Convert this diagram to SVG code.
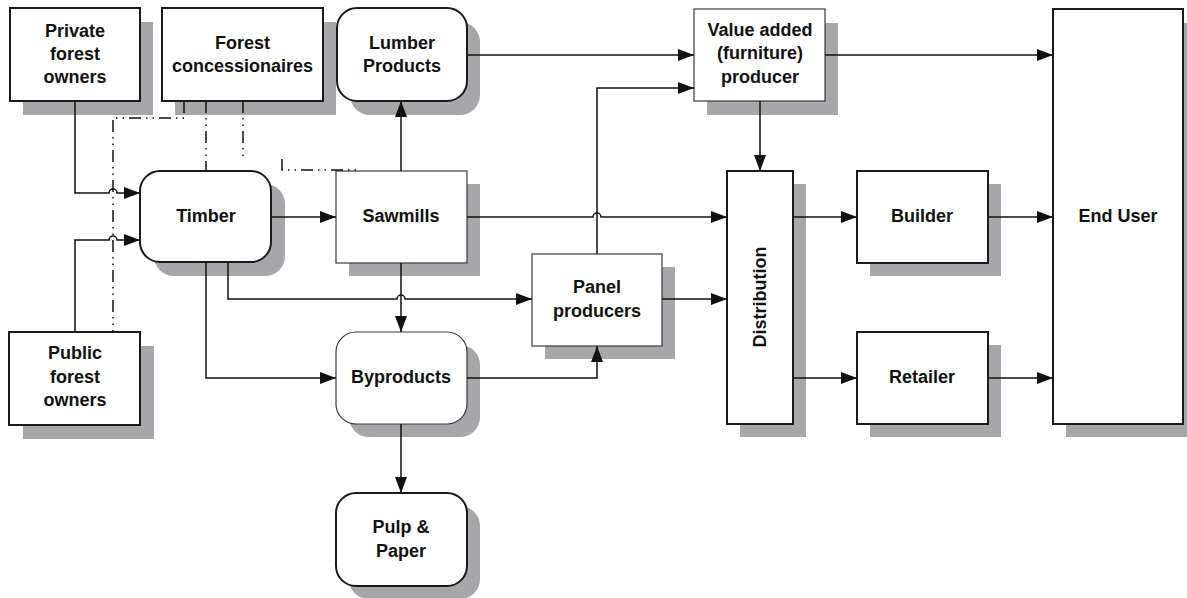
<svg xmlns="http://www.w3.org/2000/svg" width="1187" height="598" viewBox="0 0 1187 598">
<style>
.sh{fill:#a7a7aa}
.bx{fill:#fff;stroke:#1a1a1a;stroke-width:2}
.tn{fill:#fff;stroke:#3a3a3a;stroke-width:1.2}
.t{font-family:"Liberation Sans",Arial,sans-serif;font-weight:bold;font-size:18px;fill:#111;text-anchor:middle}
.c{fill:none;stroke:#111;stroke-width:1.5}
.d{fill:none;stroke:#111;stroke-width:1.5;stroke-dasharray:12 5 1.5 5 1.5 5}
</style>
<defs>
<marker id="ah" markerUnits="userSpaceOnUse" markerWidth="16" markerHeight="12" viewBox="0 0 16 12" refX="16" refY="6" orient="auto">
<path d="M0,0 L16,6 L0,12 Z" fill="#111"/>
</marker>
</defs>
<rect width="1187" height="598" fill="#fff"/>
<g id="private-forest-owners">
<rect class="sh" x="23" y="22" width="130" height="93"/>
<rect class="bx" x="10" y="8" width="130" height="93"/>
<text class="t" x="75" y="37">Private</text><text class="t" x="75" y="60">forest</text><text class="t" x="75" y="83">owners</text>
</g>
<g id="forest-concessionaires">
<rect class="sh" x="175" y="22" width="161" height="93"/>
<rect class="bx" x="162" y="8" width="161" height="93"/>
<text class="t" x="242.5" y="49">Forest</text><text class="t" x="242.5" y="72">concessionaires</text>
</g>
<g id="lumber-products">
<rect class="sh" x="350" y="22" width="130" height="93" rx="20"/>
<rect class="bx" x="337" y="8" width="130" height="93" rx="20"/>
<text class="t" x="402" y="49">Lumber</text><text class="t" x="402" y="72">Products</text>
</g>
<g id="value-added-producer">
<rect class="sh" x="707" y="23" width="131" height="92"/>
<rect class="tn" x="694" y="9" width="131" height="92"/>
<text class="t" x="760" y="36">Value added</text><text class="t" x="760" y="59">(furniture)</text><text class="t" x="760" y="83">producer</text>
</g>
<g id="end-user">
<rect class="sh" x="1066" y="23" width="130" height="414"/>
<rect class="bx" x="1053" y="9" width="130" height="415"/>
<text class="t" x="1118" y="222">End User</text>
</g>
<g id="timber">
<rect class="sh" x="154" y="184" width="131" height="92" rx="20"/>
<rect class="bx" x="140" y="171" width="131" height="91" rx="20"/>
<text class="t" x="206" y="222">Timber</text>
</g>
<g id="sawmills">
<rect class="sh" x="349" y="184" width="131" height="92"/>
<rect class="tn" x="336" y="171" width="131" height="92"/>
<text class="t" x="401" y="222">Sawmills</text>
</g>
<g id="panel-producers">
<rect class="sh" x="545" y="267" width="130" height="92"/>
<rect class="tn" x="532" y="254" width="130" height="92"/>
<text class="t" x="597" y="293">Panel</text><text class="t" x="597" y="317">producers</text>
</g>
<g id="byproducts">
<rect class="sh" x="349" y="345" width="131" height="92" rx="20"/>
<rect class="tn" x="336" y="332" width="131" height="92" rx="20"/>
<text class="t" x="401" y="383">Byproducts</text>
</g>
<g id="pulp-paper">
<rect class="sh" x="349" y="506" width="131" height="93" rx="20"/>
<rect class="bx" x="336" y="493" width="131" height="93" rx="20"/>
<text class="t" x="401" y="533">Pulp &amp;</text><text class="t" x="401" y="557">Paper</text>
</g>
<g id="public-forest-owners">
<rect class="sh" x="23" y="346" width="131" height="93"/>
<rect class="bx" x="9" y="332" width="131" height="93"/>
<text class="t" x="75" y="359">Public</text><text class="t" x="75" y="383">forest</text><text class="t" x="75" y="406">owners</text>
</g>
<g id="distribution">
<rect class="sh" x="740" y="184" width="66" height="253"/>
<rect class="bx" x="727" y="171" width="66" height="253"/>
<text class="t" transform="translate(766,297) rotate(-90)">Distribution</text>
</g>
<g id="builder">
<rect class="sh" x="870" y="184" width="131" height="92"/>
<rect class="bx" x="857" y="171" width="131" height="92"/>
<text class="t" x="922" y="222">Builder</text>
</g>
<g id="retailer">
<rect class="sh" x="870" y="345" width="131" height="92"/>
<rect class="bx" x="857" y="332" width="131" height="92"/>
<text class="t" x="922" y="383">Retailer</text>
</g>
<g id="connectors">
<path class="d" d="M184,101 V118 H113 V332"/>
<path class="d" d="M206,101 V171"/>
<path class="d" d="M243,101 V158"/>
<path class="d" d="M282,159 V170 H357"/>
<path class="c" marker-end="url(#ah)" d="M75,101 V193 H109 A4,4 0 0 1 117,193 H140"/>
<path class="c" marker-end="url(#ah)" d="M75,332 V240 H109 A4,4 0 0 1 117,240 H140"/>
<path class="c" marker-end="url(#ah)" d="M271,217 H336"/>
<path class="c" marker-end="url(#ah)" d="M228,262 V299 H397 A4,4 0 0 1 405,299 H532"/>
<path class="c" marker-end="url(#ah)" d="M206,262 V378 H336"/>
<path class="c" marker-end="url(#ah)" d="M401,171 V101"/>
<path class="c" marker-end="url(#ah)" d="M401,263 V332"/>
<path class="c" marker-end="url(#ah)" d="M467,217 H593 A4,4 0 0 1 601,217 H727"/>
<path class="c" marker-end="url(#ah)" d="M597,254 V88 H694"/>
<path class="c" marker-end="url(#ah)" d="M467,55 H694"/>
<path class="c" marker-end="url(#ah)" d="M467,378 H597 V346"/>
<path class="c" marker-end="url(#ah)" d="M662,299 H727"/>
<path class="c" marker-end="url(#ah)" d="M760,101 V171"/>
<path class="c" marker-end="url(#ah)" d="M825,55 H1053"/>
<path class="c" marker-end="url(#ah)" d="M793,217 H857"/>
<path class="c" marker-end="url(#ah)" d="M793,378 H857"/>
<path class="c" marker-end="url(#ah)" d="M988,217 H1053"/>
<path class="c" marker-end="url(#ah)" d="M988,378 H1053"/>
<path class="c" marker-end="url(#ah)" d="M401,424 V493"/>
</g>
</svg>
